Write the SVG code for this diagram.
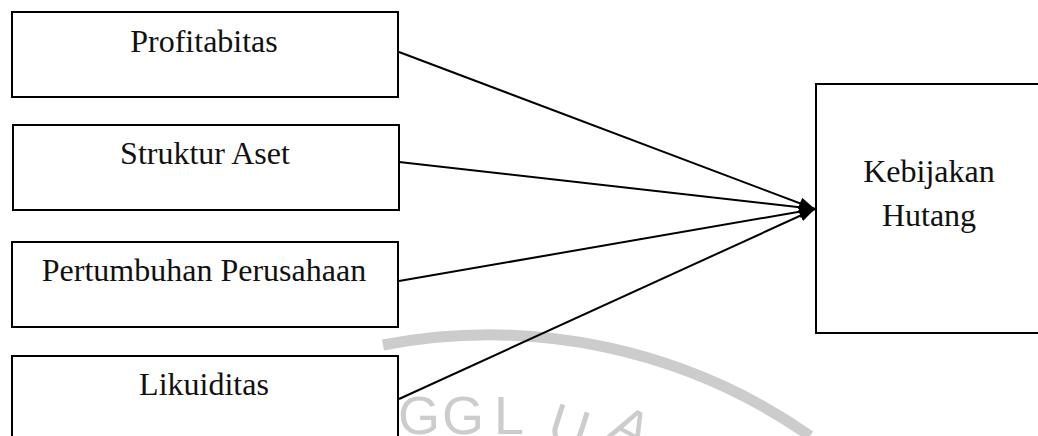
<svg xmlns="http://www.w3.org/2000/svg" width="1038" height="436" viewBox="0 0 1038 436">
  <style>
    .box { fill: #ffffff; stroke: #000000; stroke-width: 2; }
    .lbl { font-family: "Liberation Serif", "Times New Roman", serif; font-size: 32px; fill: #111111; text-anchor: middle; }
    .conn { stroke: #000000; stroke-width: 2; fill: none; marker-end: url(#arrow); }
    .wm { fill: #cccccc; font-family: "Liberation Sans", Arial, sans-serif; font-size: 54px; }
  </style>
  <defs>
    <marker id="arrow" markerUnits="userSpaceOnUse" markerWidth="16" markerHeight="12" refX="16" refY="6" orient="auto">
      <path d="M0,0 L16,6 L0,12 Z" fill="#000000"/>
    </marker>
  </defs>
  <rect width="1038" height="436" fill="#ffffff"/>

  <g id="watermark">
    <path d="M 383 345 A 560 560 0 0 1 810 436" fill="none" stroke="#cccccc" stroke-width="11"/>
    <text class="wm" x="398" y="434">G</text>
    <text class="wm" x="442" y="434">G</text>
    <text class="wm" x="494" y="434">L</text>
    <text class="wm" x="548" y="442" transform="rotate(18 560 430)">U</text>
    <text class="wm" x="612" y="446" transform="rotate(28 630 430)">A</text>
  </g>

  <g id="connectors">
    <line class="conn" x1="399" y1="52" x2="815" y2="209"/>
    <line class="conn" x1="399" y1="162" x2="815" y2="209"/>
    <line class="conn" x1="399" y1="281" x2="815" y2="209"/>
    <line class="conn" x1="399" y1="399" x2="815" y2="209"/>
  </g>

  <g id="node-profitabitas">
    <rect class="box" x="12" y="12" width="386" height="85"/>
    <text class="lbl" x="204" y="52">Profitabitas</text>
  </g>
  <g id="node-struktur-aset">
    <rect class="box" x="13" y="125" width="386" height="85"/>
    <text class="lbl" x="205" y="164">Struktur Aset</text>
  </g>
  <g id="node-pertumbuhan">
    <rect class="box" x="12" y="242" width="386" height="85"/>
    <text class="lbl" x="204" y="281">Pertumbuhan Perusahaan</text>
  </g>
  <g id="node-likuiditas">
    <rect class="box" x="12" y="356" width="386" height="100"/>
    <text class="lbl" x="204" y="395">Likuiditas</text>
  </g>
  <g id="node-kebijakan-hutang">
    <rect class="box" x="816" y="84" width="240" height="249"/>
    <text class="lbl" x="929" y="182">Kebijakan</text>
    <text class="lbl" x="929" y="226">Hutang</text>
  </g>
</svg>
